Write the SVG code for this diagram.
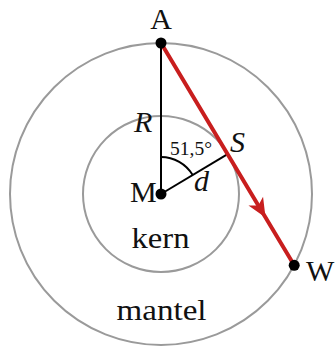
<svg xmlns="http://www.w3.org/2000/svg" width="335" height="347" viewBox="0 0 335 347">
<style>
.ring{fill:none;stroke:#9a9a9a;stroke-width:2}
.blk{fill:none;stroke:#000;stroke-width:2}
.dot{fill:#000}
.red{fill:none;stroke:#c81e1e;stroke-width:4;stroke-linecap:butt}
text{font-family:"Liberation Serif","Times New Roman",serif;fill:#111}
.lbl{font-size:30px}
.it{font-style:italic;font-size:30px}
.ang{font-size:19px}
</style>
<defs>
<marker id="arr" markerUnits="userSpaceOnUse" viewBox="-20 -10 22 20" refX="0" refY="0" markerWidth="22" markerHeight="20" orient="auto" overflow="visible">
<path d="M2,0 L-17,-8.5 L-12,0 L-17,8.5 Z" fill="#c81e1e"/>
</marker>
</defs>
<g id="mantel">
<circle class="ring" cx="161" cy="194" r="151"/>
<text class="lbl" x="161.5" y="320" text-anchor="middle" textLength="90" lengthAdjust="spacingAndGlyphs">mantel</text>
</g>
<g id="kern">
<circle class="ring" cx="161" cy="194" r="78"/>
<text class="lbl" x="160.5" y="248" text-anchor="middle" textLength="58" lengthAdjust="spacingAndGlyphs">kern</text>
</g>
<g id="connectors">
<line class="blk" x1="161" y1="43" x2="161" y2="194"/>
<line class="blk" x1="161" y1="194" x2="227.6" y2="154.2"/>
<path class="blk" d="M161,157 A37,37 0 0 1 192.7,175" stroke-width="1.6"/>
<path class="red" d="M161,43 L264.5,215.8 L294.2,265.3" marker-mid="url(#arr)"/>
</g>
<g id="node-A">
<circle class="dot" cx="161" cy="43" r="5.5"/>
<text class="lbl" x="161" y="28.5" text-anchor="middle">A</text>
</g>
<g id="node-M">
<circle class="dot" cx="161" cy="194" r="5.5"/>
<text class="lbl" x="130" y="202">M</text>
</g>
<g id="node-W">
<circle class="dot" cx="294.2" cy="265.3" r="5.5"/>
<text class="lbl" x="306" y="280.5">W</text>
</g>
<g id="labels">
<text class="it" x="134" y="131.5">R</text>
<text class="it" x="230" y="152">S</text>
<text class="it" x="194" y="191">d</text>
<text class="ang" x="170" y="155" textLength="42" lengthAdjust="spacingAndGlyphs">51,5°</text>
</g>
</svg>
